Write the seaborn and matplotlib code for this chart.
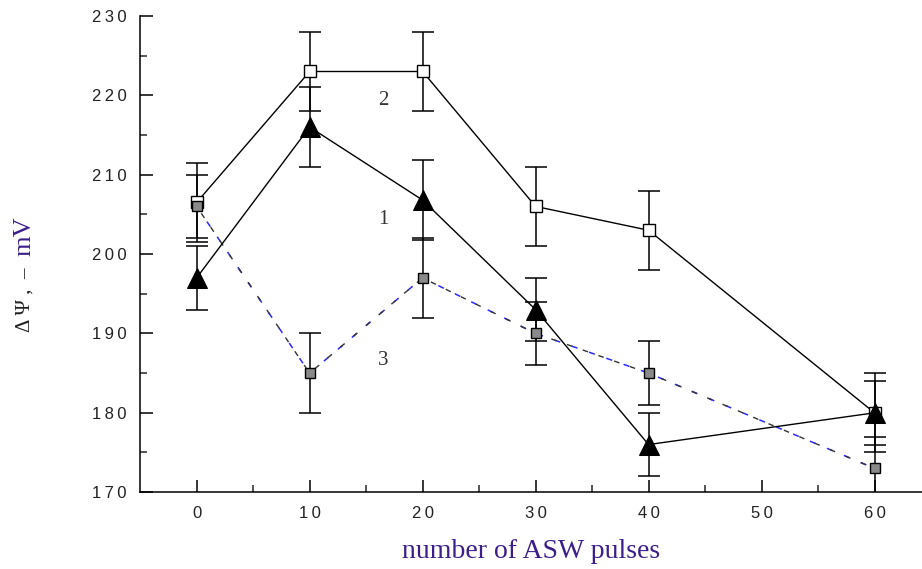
import matplotlib.pyplot as plt
import pandas as pd
import seaborn as sns
from matplotlib.ticker import FuncFormatter

pulses = [0, 10, 20, 30, 40, 60]

curve1 = [197, 216, 206.8, 193, 176, 180]
err1 = [4, 5, 5, 4, 4, 4]

curve2 = [206.5, 223, 223, 206, 203, 180]
err2 = [5, 5, 5, 5, 5, 5]

curve3 = [206, 185, 197, 190, 185, 173]
err3 = [4, 5, 5, 4, 4, 4]

label_x = [16.5, 16.5, 16.5]
label_y = [219.4, 204.3, 186.6]
label_txt = ["2", "1", "3"]

sns.set_style("ticks")
plt.rcParams["font.family"] = ["Liberation Sans", "DejaVu Sans"]

df1 = pd.DataFrame({"x": pulses, "y": curve1, "e": err1})
df2 = pd.DataFrame({"x": pulses, "y": curve2, "e": err2})
df3 = pd.DataFrame({"x": pulses, "y": curve3, "e": err3})

fig = plt.figure(figsize=(9.22, 5.69), dpi=100)
ax = fig.add_axes([0.152, 0.135, 0.848, 0.837])

for d in (df1, df2, df3):
    ax.errorbar(d.x, d.y, yerr=d.e, fmt="none", ecolor="black",
                elinewidth=1.1, capsize=8, capthick=1.1, zorder=2)

# curve 3: blue/black dashes
sns.lineplot(data=df3, x="x", y="y", ax=ax, color="#2a2aff", lw=1.1,
             linestyle=(0, (4, 8)), zorder=3)
sns.lineplot(data=df3, x="x", y="y", ax=ax, color="#333333", lw=1.0,
             linestyle=(6, (4, 8)), zorder=3)
ax.plot(df3.x, df3.y, ls="none", marker="s", ms=7, mfc="#8a8a8a",
        mec="black", mew=1.0, zorder=5)

sns.lineplot(data=df2, x="x", y="y", ax=ax, color="black", lw=1.0,
             marker="s", markersize=8, markerfacecolor="white",
             markeredgecolor="black", markeredgewidth=1.0, zorder=4)
sns.lineplot(data=df1, x="x", y="y", ax=ax, color="black", lw=1.0,
             marker="^", markersize=14, markerfacecolor="black",
             markeredgecolor="black", zorder=6)

for tx, ty, t in zip(label_x, label_y, label_txt):
    ax.text(tx, ty, t, fontsize=15, family="Liberation Serif",
            color="#333333", ha="center", va="center")

spaced = FuncFormatter(lambda v, p: "\u2009".join(str(int(v))))

ax.set_xlim(-5, 64.2)
ax.set_ylim(170, 230)
ax.set_xticks([0, 10, 20, 30, 40, 50, 60])
ax.set_xticks([5, 15, 25, 35, 45, 55], minor=True)
ax.set_yticks(range(170, 231, 10))
ax.set_yticks(range(175, 230, 10), minor=True)
ax.xaxis.set_major_formatter(spaced)
ax.yaxis.set_major_formatter(spaced)
ax.tick_params(which="major", direction="in", length=9, width=1.1,
               labelsize=12, colors="black", labelcolor="#222222", pad=10)
ax.tick_params(which="minor", direction="in", length=5, width=1.1)
sns.despine(ax=ax)
for s in ("left", "bottom"):
    ax.spines[s].set_linewidth(1.1)
    ax.spines[s].set_color("black")

ax.set_xlabel("number of ASW pulses", family="Liberation Serif",
              fontsize=20, color="#3b1e8c", labelpad=13)
ax.set_ylabel("")
fig.text(0.027, 0.474, "\u0394 \u03a8 ,  \u2013", rotation=90, family="Liberation Serif",
         fontsize=15, color="#222222", ha="center", va="center")
fig.text(0.027, 0.585, "mV", rotation=90, family="Liberation Serif",
         fontsize=19, color="#3b1e8c", ha="center", va="center")

fig.savefig("out.png", dpi=100)
